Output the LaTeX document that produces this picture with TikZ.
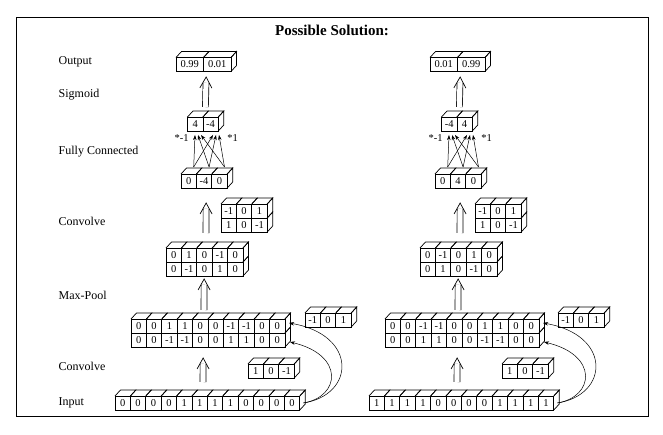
\documentclass[tikz,border=0pt]{standalone}
\usepackage{fontspec}
\setmainfont{Liberation Serif}
\usetikzlibrary{positioning,arrows.meta,decorations.markings}

\tikzset{
  cell/.style={draw, minimum width=15.4pt, minimum height=14pt, inner sep=0pt, outer sep=0pt, font=\fontsize{10.5}{12}\selectfont},
  wide/.style={minimum width=27.5pt},
  layer/.style={font=\fontsize{12}{14}\selectfont, anchor=west},
  lift/.style={double, double distance=5.2pt,
    postaction={decorate, decoration={markings, mark=at position 1 with {%
      \pgfsetlinewidth{0.7pt}\pgfsetstrokecolor{black}%
      \pgfpathmoveto{\pgfpoint{-5pt}{-6pt}}\pgfpathlineto{\pgfpoint{6pt}{0pt}}%
      \pgfpathlineto{\pgfpoint{-5pt}{6pt}}\pgfusepath{stroke}}}}},
  link/.style={line width=0.5pt, -{Stealth[length=5pt,width=3.5pt]}},
  weight/.style={font=\fontsize{10.5}{12}\selectfont},
}
% row of boxes with top faces: name, north west corner, values
\newcommand\toprow[4][]{%
  \foreach \v [count=\i] in {#4}{%
    \ifnum\i=1
      \node[cell,#1,anchor=north west] (#2-\i) at (#3) {\v};
    \else
      \pgfmathtruncatemacro\k{\i-1}
      \node[cell,#1,right=0pt of #2-\k] (#2-\i) {\v};
    \fi
    \draw (#2-\i.north west) -- ++(5.5,6) -- ([shift={(5.5,6)}]#2-\i.north east) -- (#2-\i.north east);
    \xdef\lastcell{\i}}
  \draw (#2-\lastcell.north east) -- ++(5.5,6) -- ([shift={(5.5,6)}]#2-\lastcell.south east) -- (#2-\lastcell.south east);}
% second row under a row: name, upper row, values
\newcommand\lowrow[4][]{%
  \foreach \v [count=\i] in {#4}{%
    \node[cell,#1,below=0pt of #3-\i] (#2-\i) {\v};
    \xdef\lastcell{\i}}
  \draw (#2-\lastcell.north east) -- ++(5.5,6) -- ([shift={(5.5,6)}]#2-\lastcell.south east) -- (#2-\lastcell.south east);}

\begin{document}
\begin{tikzpicture}[x=1pt,y=1pt,line width=0.7pt]
\useasboundingbox (0,0) rectangle (663,435);
\draw (16,19) rectangle (648,418);
\node[font=\bfseries\fontsize{15}{18}\selectfont] (title) at (332,405) {Possible Solution:};
% layer names
\node[layer] (nOut) at (55,373) {Output};
\node[layer] (nSig) at (55,340) {Sigmoid};
\node[layer] (nFc) at (55,283) {Fully Connected};
\node[layer] (nConvB) at (55,214) {Convolve};
\node[layer] (nPool) at (55,140) {Max-Pool};
\node[layer] (nConvA) at (55,69) {Convolve};
\node[layer] (nIn) at (55,32) {Input};
% left network
\toprow{inL}{115,39}{0,0,0,0,1,1,1,1,0,0,0,0}
\toprow{cAL}{131,116}{0,0,1,1,0,0,-1,-1,0,0}
\lowrow{cBL}{cAL}{0,0,-1,-1,0,0,1,1,0,0}
\toprow{kAL}{248,71}{1,0,-1}
\toprow{kBL}{305,122}{-1,0,1}
\toprow{mpL}{166,187}{0,1,0,-1,0}
\lowrow{mqL}{mpL}{0,-1,0,1,0}
\toprow{kcL}{221,231}{-1,0,1}
\lowrow{kdL}{kcL}{1,0,-1}
\toprow{crL}{181,261}{0,-4,0}
\toprow{fcL}{187.5,318}{4,-4}
\toprow[wide]{outL}{176,377.5}{0.99,0.01}
\draw[lift] ([shift={(-4.4,14)}]inL-6.north east) -- ([shift={(-4.9,-17)}]cBL-5.south east);
\draw[lift] ([shift={(-4,9)}]cAL-5.north east) -- ([shift={(-0.4,-9)}]mqL-3.south);
\draw[lift] ([shift={(1.5,15)}]mpL-3.north) -- ([shift={(2,-21)}]crL-2.south);
\draw[lift] ([shift={(2.5,10)}]fcL-1.north east) -- ([shift={(2.5,-11.5)}]outL-1.south east);
\foreach \s in {1,2,3}{
  \draw[link] ([shift={(5,7)}]crL-\s.north) -- ([shift={(3*\s-3.2,-4)}]fcL-1.south);
  \draw[link] ([shift={(5,7)}]crL-\s.north) -- ([shift={(3*\s-0.6,-4)}]fcL-2.south);
}
\node[weight,anchor=east] (wAL) at ([shift={(-3,-7)}]fcL-1.south) {*-1};
\node[weight,anchor=west] (wBL) at ([shift={(13,-7)}]fcL-2.south) {*1};
\draw[link] ([xshift=3.5]inL-12.east) .. controls +(52,8) and +(69,-12) .. ([shift={(4,3)}]cAL-10.east);
\draw[link] ([xshift=3.5]inL-12.east) .. controls +(37,6) and +(55,-13) .. ([shift={(5,-2)}]cBL-10.east);
% right network
\begin{scope}[xshift=254]
\toprow{inR}{115,39}{1,1,1,1,0,0,0,0,1,1,1,1}
\toprow{cAR}{131,116}{0,0,-1,-1,0,0,1,1,0,0}
\lowrow{cBR}{cAR}{0,0,1,1,0,0,-1,-1,0,0}
\toprow{kAR}{248,71}{1,0,-1}
\toprow{kBR}{304,122}{-1,0,1}
\toprow{mpR}{166,187}{0,-1,0,1,0}
\lowrow{mqR}{mpR}{0,1,0,-1,0}
\toprow{kcR}{221,231}{-1,0,1}
\lowrow{kdR}{kcR}{1,0,-1}
\toprow{crR}{181,261}{0,4,0}
\toprow{fcR}{187.5,318}{-4,4}
\toprow[wide]{outR}{176,377.5}{0.01,0.99}
\draw[lift] ([shift={(-4.4,14)}]inR-6.north east) -- ([shift={(-4.9,-17)}]cBR-5.south east);
\draw[lift] ([shift={(-4,9)}]cAR-5.north east) -- ([shift={(-0.4,-9)}]mqR-3.south);
\draw[lift] ([shift={(1.5,15)}]mpR-3.north) -- ([shift={(2,-21)}]crR-2.south);
\draw[lift] ([shift={(2.5,10)}]fcR-1.north east) -- ([shift={(2.5,-11.5)}]outR-1.south east);
\foreach \s in {1,2,3}{
  \draw[link] ([shift={(5,7)}]crR-\s.north) -- ([shift={(3*\s-3.2,-4)}]fcR-1.south);
  \draw[link] ([shift={(5,7)}]crR-\s.north) -- ([shift={(3*\s-0.6,-4)}]fcR-2.south);
}
\node[weight,anchor=east] (wAR) at ([shift={(-3,-7)}]fcR-1.south) {*-1};
\node[weight,anchor=west] (wBR) at ([shift={(13,-7)}]fcR-2.south) {*1};
\draw[link] ([xshift=3.5]inR-12.east) .. controls +(52,8) and +(69,-12) .. ([shift={(4,3)}]cAR-10.east);
\draw[link] ([xshift=3.5]inR-12.east) .. controls +(37,6) and +(55,-13) .. ([shift={(5,-2)}]cBR-10.east);
\end{scope}
\end{tikzpicture}
\end{document}
